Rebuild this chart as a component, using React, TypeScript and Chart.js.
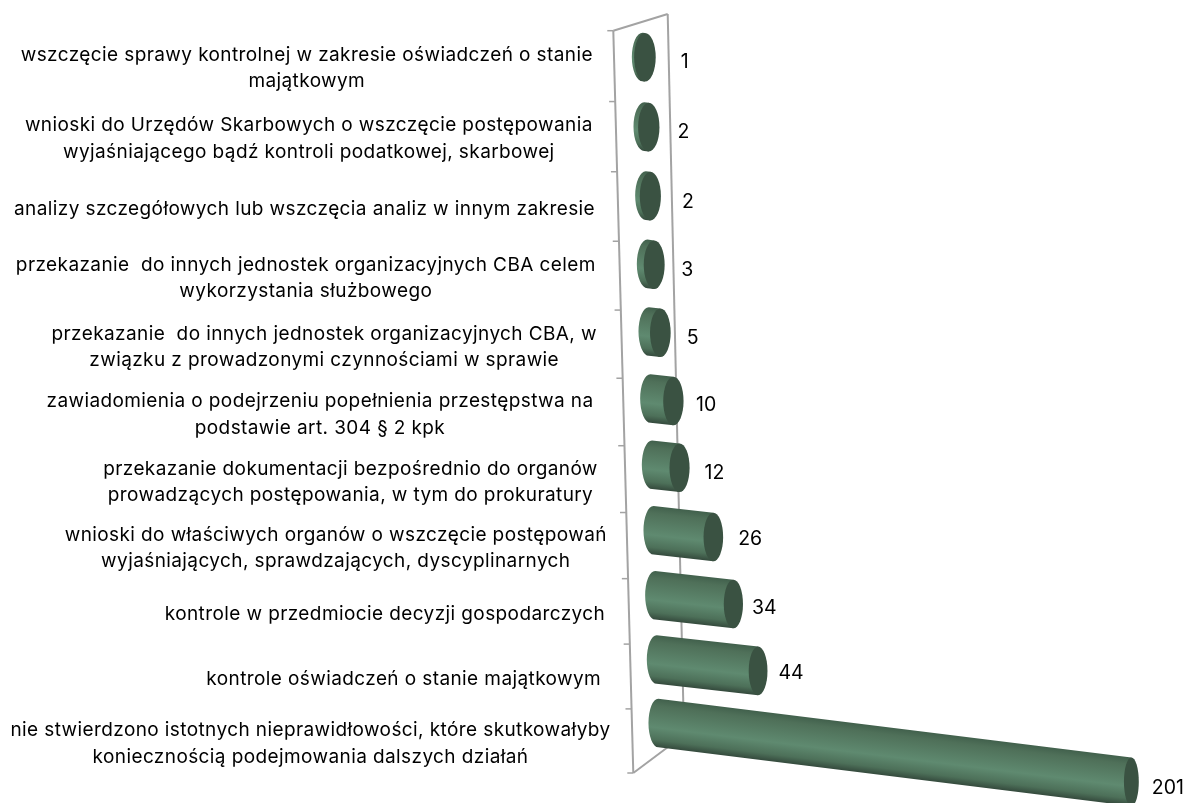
import React, { useEffect, useRef } from "react";
import { Chart, registerables } from "chart.js";

Chart.register(...registerables);

const categories: string[][] = [
  ["wszczęcie sprawy kontrolnej w zakresie oświadczeń o stanie", "majątkowym"],
  ["wnioski do Urzędów Skarbowych o wszczęcie postępowania", "wyjaśniającego bądź kontroli podatkowej, skarbowej"],
  ["analizy szczegółowych lub wszczęcia analiz w innym zakresie"],
  ["przekazanie  do innych jednostek organizacyjnych CBA celem", "wykorzystania służbowego"],
  ["przekazanie  do innych jednostek organizacyjnych CBA, w", "związku z prowadzonymi czynnościami w sprawie"],
  ["zawiadomienia o podejrzeniu popełnienia przestępstwa na", "podstawie art. 304 § 2 kpk"],
  ["przekazanie dokumentacji bezpośrednio do organów", "prowadzących postępowania, w tym do prokuratury"],
  ["wnioski do właściwych organów o wszczęcie postępowań", "wyjaśniających, sprawdzających, dyscyplinarnych"],
  ["kontrole w przedmiocie decyzji gospodarczych"],
  ["kontrole oświadczeń o stanie majątkowym"],
  ["nie stwierdzono istotnych nieprawidłowości, które skutkowałyby", "koniecznością podejmowania dalszych działań"],
];
const values: number[] = [1, 2, 2, 3, 5, 10, 12, 26, 34, 44, 201];

// Layout only: where each wrapped category label sits, and data label nudges.
const labelCentres = [306.8, 308.8, 304.5, 305.8, 324.2, 320, 350.5, 335.8, 385, 403.7, 310.5];
const labelFirstLine = [55, 125.7, 209, 265, 334, 401.7, 469, 535, 614.3, 679.3, 730.7];
const valueGaps = [25, 18, 21, 16.7, 16, 12.5, 15, 15, 9, 11, 13];
const valueDrops = [5, 5, 6, 5, 5, 4, 5, 2.5, 4, 2.5, 6];

const FONT = "Inter";
const LINE = 26.3;

const wallY = (t: number) => 30.7 + 742.3 * (t + 0.055 * t * (1 - t));
const wallLeftX = (t: number) => 613.3 + 20 * t;
const wallRightX = (t: number) => 667.7 + 16.3 * t;
const wallRightY = (t: number) => 14 + 721 * t;

const barY = (t: number) => 57 + 732.6 * (t - 0.04545) + 41 * (t - 0.04545) * (0.95455 - t);
const barLeft = (t: number) => 631 + 18.3 * t;

function strokeLine(ctx: CanvasRenderingContext2D, x1: number, y1: number, x2: number, y2: number) {
  ctx.beginPath();
  ctx.moveTo(x1, y1);
  ctx.lineTo(x2, y2);
  ctx.stroke();
}

const perspectivePlugin = {
  id: "perspective",
  beforeDatasetsDraw(chart: any) {
    const { ctx, chartArea, scales } = chart;
    const y = scales.y;
    const n = chart.data.labels.length;
    ctx.save();
    ctx.strokeStyle = "#a3a3a3";
    ctx.lineWidth = 2;
    ctx.lineCap = "butt";
    strokeLine(ctx, wallLeftX(0), wallY(0), wallLeftX(1), wallY(1));
    strokeLine(ctx, wallLeftX(0), wallY(0), wallRightX(0), wallRightY(0));
    strokeLine(ctx, wallRightX(0), wallRightY(0), wallRightX(1), wallRightY(1));
    strokeLine(ctx, wallLeftX(1), wallY(1), wallRightX(1), wallRightY(1));
    const band = y.height / n;
    ctx.lineWidth = 1.5;
    for (let i = 0; i <= n; i++) {
      const px = i < n ? y.getPixelForValue(i) - band / 2 : y.getPixelForValue(n - 1) + band / 2;
      const t = (px - chartArea.top) / chartArea.height;
      strokeLine(ctx, wallLeftX(t) - 6, wallY(t), wallLeftX(t), wallY(t));
    }
    ctx.restore();
  },
  afterDatasetsDraw(chart: any) {
    const { ctx, chartArea } = chart;
    const meta = chart.getDatasetMeta(0);
    const data = chart.data.datasets[0].data as number[];
    const labels = chart.data.labels as string[][];
    const ry = 24.3;
    ctx.save();
    meta.data.forEach((el: any, i: number) => {
      const t = (el.y - chartArea.top) / chartArea.height;
      const l = el.x - el.base;
      const len = l * (1 + 0.00006 * l);
      const rb = 10.8 - 0.1 * i;
      const rf = rb - 0.005 * len;
      const bx = barLeft(t) + rb;
      const by = barY(t);
      const fx = bx + len;
      const fy = by + len * (0.11 + 0.00003 * len);

      const dx = fx - bx;
      const dy = fy - by;
      const L = Math.hypot(dx, dy) || 1;
      const nx = -dy / L;
      const ny = dx / L;
      const mx = (bx + fx) / 2;
      const my = (by + fy) / 2;
      const g = ctx.createLinearGradient(mx - nx * ry, my - ny * ry, mx + nx * ry, my + ny * ry);
      g.addColorStop(0, "#41604c");
      g.addColorStop(0.15, "#4f7059");
      g.addColorStop(0.6, "#5f8a70");
      g.addColorStop(0.85, "#4d7059");
      g.addColorStop(1, "#34493c");
      ctx.fillStyle = g;
      ctx.beginPath();
      ctx.moveTo(bx, by - ry);
      ctx.lineTo(fx, fy - ry);
      ctx.lineTo(fx, fy + ry);
      ctx.lineTo(bx, by + ry);
      ctx.ellipse(bx, by, rb, ry, 0, Math.PI / 2, Math.PI * 1.5);
      ctx.closePath();
      ctx.fill();

      ctx.fillStyle = "#3a5242";
      ctx.beginPath();
      ctx.ellipse(fx, fy, rf, ry, 0, 0, Math.PI * 2);
      ctx.fill();

      ctx.fillStyle = "#000000";
      ctx.font = `19.5px ${FONT}`;
      ctx.textAlign = "left";
      ctx.textBaseline = "middle";
      ctx.fillText(String(data[i]), fx + rf + valueGaps[i], fy + valueDrops[i]);
    });

    ctx.fillStyle = "#000000";
    ctx.font = `19px ${FONT}`;
    (ctx as any).letterSpacing = "0.4px";
    ctx.textAlign = "center";
    ctx.textBaseline = "middle";
    labels.forEach((lines, i) => {
      lines.forEach((line, k) => {
        ctx.fillText(line, labelCentres[i], labelFirstLine[i] + k * LINE);
      });
    });
    (ctx as any).letterSpacing = "0px";
    ctx.restore();
  },
};

export default function App() {
  const ref = useRef<HTMLCanvasElement>(null);
  useEffect(() => {
    if (!ref.current) return;
    const chart = new Chart(ref.current, {
      type: "bar",
      data: {
        labels: categories,
        datasets: [{ data: values, backgroundColor: "rgba(0,0,0,0)", borderWidth: 0 }],
      },
      options: {
        indexAxis: "y",
        animation: false,
        responsive: false,
        layout: { padding: { left: 650, right: 56, top: 31, bottom: 30 } },
        plugins: { legend: { display: false }, tooltip: { enabled: false } },
        scales: {
          x: { display: false, min: 0, max: 210 },
          y: { display: false },
        },
      },
      plugins: [perspectivePlugin],
    });
    return () => chart.destroy();
  }, []);
  return (
    <canvas
      ref={ref}
      width={1187}
      height={803}
      style={{ position: "absolute", left: 0, top: 0, display: "block", background: "#ffffff" }}
    />
  );
}
